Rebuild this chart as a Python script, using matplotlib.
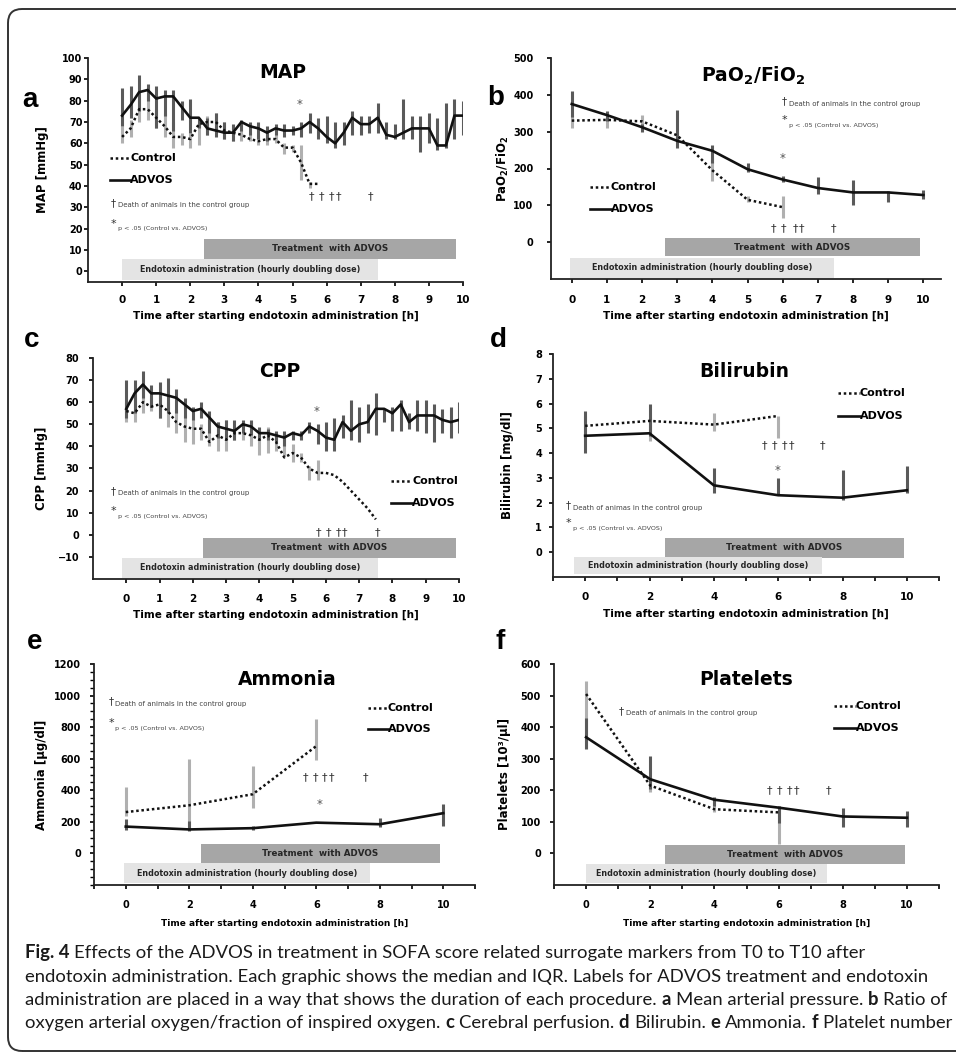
import numpy as np
import matplotlib.pyplot as plt
from matplotlib.patches import FancyBboxPatch, Rectangle

W, H = 956, 1052
plt.rcParams['font.family'] = ['DejaVu Sans']
plt.rcParams['mathtext.fontset'] = 'dejavusans'

# ---------------- data (median, IQR lower, IQR upper) ----------------
# a: MAP, quarter-hour samples
map_t = np.arange(41) * 0.25
map_advos = [73, 78, 84, 85, 81, 82, 82, 77, 72, 72, 67, 66, 65, 65, 70, 68, 67, 65, 67, 66,
             66, 67, 70, 67, 63, 60, 65, 72, 69, 69, 72, 64, 63, 65, 67, 67, 67, 59, 59, 73, 73]
map_advos_lo = [68, 72, 75, 80, 67, 73, 66, 71, 65, 67, 64, 63, 62, 61, 66, 64, 62, 61, 64, 63,
                64, 63, 65, 62, 60, 58, 59, 64, 64, 65, 65, 62, 62, 62, 62, 56, 60, 57, 58, 62, 64]
map_advos_hi = [86, 87, 92, 88, 87, 85, 85, 80, 81, 72, 72, 74, 70, 69, 71, 70, 70, 68, 69, 69,
                68, 70, 74, 72, 73, 70, 70, 75, 73, 73, 79, 70, 69, 81, 73, 73, 74, 72, 79, 81, 80]
map_ctrl_t = np.arange(24) * 0.25
map_ctrl = [63, 67, 76, 76, 72, 68, 63, 63, 62, 69, 70, 70, 66, 65, 64, 62, 61, 62, 62, 58,
            58, 51, 41, 41]
map_ctrl_lo = [60, 63, 70, 71, 67, 63, 58, 59, 58, 59, 64, 66, 62, 61, 61, 61, 59, 59, 60, 55,
               56, 43, 39]
map_ctrl_hi = [68, 71, 81, 82, 76, 74, 70, 65, 65, 70, 73, 74, 70, 68, 68, 65, 64, 64, 65, 60,
               59, 59, 42]

# b: PaO2/FiO2, hourly
pf_t = np.arange(11)
pf_advos = [375, 345, 312, 275, 248, 198, 170, 147, 135, 135, 128]
pf_advos_lo = [340, 330, 300, 255, 215, 190, 162, 130, 100, 108, 118]
pf_advos_hi = [410, 355, 320, 360, 265, 215, 180, 178, 170, 140, 142]
pf_ctrl_t = np.arange(7)
pf_ctrl = [330, 332, 328, 290, 195, 115, 95]
pf_ctrl_lo = [310, 310, 315, 275, 165, 110, 65]
pf_ctrl_hi = [345, 345, 345, 300, 230, 125, 125]

# c: CPP, quarter-hour samples
cpp_t = np.arange(41) * 0.25
cpp_advos = [57, 64, 68, 64, 64, 63, 62, 59, 56, 57, 53, 49, 48, 47, 50, 49, 46, 46, 45, 44,
             46, 45, 49, 47, 44, 43, 51, 47, 50, 51, 57, 57, 55, 59, 51, 54, 54, 54, 52, 51, 52]
cpp_advos_lo = [53, 55, 62, 58, 53, 55, 55, 53, 52, 53, 46, 44, 43, 43, 46, 45, 43, 43, 42, 40,
                43, 43, 46, 41, 38, 38, 44, 43, 42, 46, 45, 51, 47, 47, 48, 47, 46, 42, 46, 44, 46]
cpp_advos_hi = [70, 70, 74, 68, 69, 71, 66, 62, 58, 60, 56, 51, 52, 52, 52, 52, 49, 48, 47, 47,
                47, 47, 51, 50, 51, 53, 54, 61, 58, 59, 64, 57, 58, 61, 55, 61, 61, 59, 57, 58, 60]
cpp_ctrl_t = np.arange(31) * 0.25
cpp_ctrl = [56, 55, 60, 58, 59, 56, 51, 49, 48, 48, 42, 45, 43, 46, 46, 45, 43, 45, 42, 35,
            37, 35, 30, 28, 28, 27, 24, 20, 16, 12, 7]
cpp_ctrl_lo = [51, 51, 55, 56, 53, 49, 46, 42, 41, 43, 40, 38, 38, 43, 43, 40, 36, 37, 38, 35,
               33, 33, 25, 25]
cpp_ctrl_hi = [60, 62, 66, 62, 63, 60, 57, 54, 53, 50, 48, 51, 52, 49, 48, 51, 48, 49, 45, 46,
               41, 37, 31, 34]

# d: Bilirubin, every 2 h
lab_t = [0, 2, 4, 6, 8, 10]
lab_ctrl_t = [0, 2, 4, 6]
bili_advos = [4.7, 4.8, 2.7, 2.3, 2.2, 2.5]
bili_advos_lo = [4.0, 4.7, 2.4, 2.3, 2.1, 2.4]
bili_advos_hi = [5.7, 6.0, 3.4, 3.0, 3.3, 3.5]
bili_ctrl = [5.1, 5.3, 5.15, 5.5]
bili_ctrl_lo = [4.6, 4.5, 4.9, 4.6]
bili_ctrl_hi = [5.5, 5.4, 5.6, 5.5]

# e: Ammonia
nh3_advos = [170, 152, 160, 195, 185, 255]
nh3_advos_lo = [150, 145, 150, 192, 170, 175]
nh3_advos_hi = [215, 205, 175, 198, 225, 310]
nh3_ctrl = [262, 305, 375, 680]
nh3_ctrl_lo = [235, 150, 290, 595]
nh3_ctrl_hi = [420, 600, 555, 850]

# f: Platelets
plt_advos = [368, 235, 170, 145, 117, 113]
plt_advos_lo = [330, 205, 150, 95, 85, 85]
plt_advos_hi = [430, 310, 180, 150, 145, 135]
plt_ctrl = [505, 215, 140, 130]
plt_ctrl_lo = [335, 195, 130, 30]
plt_ctrl_hi = [545, 240, 175, 150]

# times of death in the control group (daggers) per panel
deaths_a = [5.56, 5.85, 6.15, 6.34, 7.29]
deaths_b = [5.73, 6.02, 6.35, 6.54, 7.44]
deaths_c = [5.77, 6.07, 6.37, 6.57, 7.55]
deaths_d = [5.58, 5.88, 6.19, 6.40, 7.39]
deaths_e = [5.65, 5.97, 6.26, 6.49, 7.54]
deaths_f = [5.73, 6.04, 6.35, 6.57, 7.57]

TIME_LABEL = 'Time after starting endotoxin administration [h]'
TREAT_LABEL = 'Treatment  with ADVOS'
ENDO_LABEL = 'Endotoxin administration (hourly doubling dose)'
DEATH_NOTE = 'Death of animals in the control group'
P_NOTE = 'p < .05 (Control vs. ADVOS)'

ADVOS_BAR = '#5a5a5a'
CTRL_BAR = '#b0b0b0'
TREAT_COL = '#a6a6a6'
ENDO_COL = '#e4e4e4'

fig = plt.figure(figsize=(W / 100, H / 100), dpi=100)


def px_axes(l, t, r, b):
    return fig.add_axes([l / W, 1 - b / H, (r - l) / W, (b - t) / H])


def make_panel(rect, xlim, ylim, yticks, xticks, xticklabels, ylabel, ylabel_x, xlabel_top,
               ypad, xpad, xsize=7.5, xlsize=7.5):
    l, t, r, b = rect
    ax = px_axes(l, t, r, b)
    ax.patch.set_alpha(0)
    ax.set_xlim(xlim)
    ax.set_ylim(ylim)
    for s in ['top', 'right']:
        ax.spines[s].set_visible(False)
    for s in ['left', 'bottom']:
        ax.spines[s].set_linewidth(1.3)
        ax.spines[s].set_color('#222222')
    ax.set_yticks(yticks)
    ax.set_xticks(xticks)
    ax.set_xticklabels(xticklabels)
    ax.tick_params(axis='y', direction='out', length=3, width=1.2, pad=ypad, labelsize=7)
    ax.tick_params(axis='x', direction='out', length=3, width=1.2, pad=xpad, labelsize=xsize)
    for lbl in ax.get_xticklabels() + ax.get_yticklabels():
        lbl.set_fontweight('bold')
    ax.set_xlabel(TIME_LABEL, fontweight='bold', fontsize=xlsize)
    ax.set_ylabel(ylabel, fontweight='bold', fontsize=8.5)
    ax.xaxis.set_label_coords(0.5, -(xlabel_top - b) / (b - t))
    ax.yaxis.set_label_coords((ylabel_x + 6 - l) / (r - l), 0.5)
    return ax


def draw_series(ax, t, v, lo, hi, ct, cv, clo, chi):
    ax.vlines(ct[:len(clo)], clo, chi, color=CTRL_BAR, lw=2.2, zorder=2)
    ax.vlines(t, lo, hi, color=ADVOS_BAR, lw=2.2, zorder=3)
    ax.plot(ct, cv, color='#111111', lw=1.8, ls=(0, (1, 1.1)), zorder=4)
    ax.plot(t, v, color='#111111', lw=1.9, zorder=5)


def phases(ax, treat, endo, tsize=6.3, esize=5.8):
    for (x0, x1, y0, y1), col, txt, fs in [(treat, TREAT_COL, TREAT_LABEL, tsize),
                                           (endo, ENDO_COL, ENDO_LABEL, esize)]:
        ax.add_patch(Rectangle((x0, y0), x1 - x0, y1 - y0, color=col, lw=0, zorder=1))
        ax.text((x0 + x1) / 2, (y0 + y1) / 2, txt, ha='center', va='center',
                fontsize=fs, fontweight='bold', color='#262626', zorder=2)


def legend(ax, x0, x1, y_ctrl, y_advos):
    ax.plot([x0, x1], [y_ctrl, y_ctrl], color='#111111', lw=1.8, ls=(0, (1, 1.1)), clip_on=False)
    ax.plot([x0, x1], [y_advos, y_advos], color='#111111', lw=1.9, clip_on=False)
    ax.text(x1, y_ctrl, 'Control', va='center', ha='left', fontsize=8, fontweight='bold')
    ax.text(x1, y_advos, 'ADVOS', va='center', ha='left', fontsize=8, fontweight='bold')


def notes(ax, x, y_death, y_p, death_text=DEATH_NOTE, star=True):
    # symbol at (x, y); small explanatory text shifted right by a few points
    ax.text(x, y_death, '\u2020', fontsize=7.5, color='#333333', ha='left', va='bottom')
    ax.annotate(death_text, (x, y_death), xytext=(5, 0), textcoords='offset points',
                fontsize=5, color='#444444', ha='left', va='bottom')
    if star:
        ax.text(x, y_p, '*', fontsize=8, color='#333333', ha='left', va='bottom')
        ax.annotate(P_NOTE, (x, y_p), xytext=(5, -2), textcoords='offset points',
                    fontsize=4.6, color='#444444', ha='left', va='bottom')


def deaths(ax, xs, y, star=None):
    for x in xs:
        ax.text(x, y, '\u2020', fontsize=8, color='#333333', ha='center', va='center')
    if star is not None:
        ax.text(star[0], star[1], '*', fontsize=8.5, color='#555555', ha='center', va='center')


def title(ax, x, y, s):
    ax.text(x, y, s, fontsize=13.5, fontweight='bold', ha='center', va='center')


hours = list(range(11))
even_ticks = list(range(-1, 12))
even_labels = [str(v) if v % 2 == 0 and 0 <= v <= 10 else '' for v in even_ticks]

# ---------------- panel a ----------------
ax = make_panel((88, 58, 463, 282), (-1, 10), (-5, 100), range(0, 101, 10), hours,
                [str(h) for h in hours], 'MAP [mmHg]', 43, 311, 1, 6.5)
phases(ax, (2.4, 9.8, 6, 15), (0, 7.5, -4, 6))
draw_series(ax, map_t, map_advos, map_advos_lo, map_advos_hi,
            map_ctrl_t, map_ctrl, map_ctrl_lo, map_ctrl_hi)
legend(ax, -0.36, 0.24, 53, 43)
notes(ax, -0.33, 29.5, 20)
deaths(ax, deaths_a, 35, star=(5.2, 78))
title(ax, 4.7, 93, 'MAP')

# ---------------- panel b ----------------
ax = make_panel((551, 58, 941, 279), (-0.59, 10.5), (-100, 500), range(0, 501, 100), hours,
                [str(h) for h in hours], r'PaO$_\mathbf{2}$/FiO$_\mathbf{2}$', 505, 311, 9.5, 8.5)
phases(ax, (2.65, 9.9, -38, 10), (-0.05, 7.45, -97, -42))
draw_series(ax, pf_t, pf_advos, pf_advos_lo, pf_advos_hi,
            pf_ctrl_t, pf_ctrl, pf_ctrl_lo, pf_ctrl_hi)
legend(ax, 0.52, 1.11, 149, 91)
notes(ax, 5.98, 368, 318)
deaths(ax, deaths_b, 37, star=(6.0, 228))
title(ax, 5.17, 452, r'PaO$_\mathbf{2}$/FiO$_\mathbf{2}$')

# ---------------- panel c ----------------
ax = make_panel((93, 358, 459, 579), (-1, 10), (-20, 80), range(-10, 81, 10), hours,
                [str(h) for h in hours], 'CPP [mmHg]', 42, 610, 7, 7.5)
phases(ax, (2.32, 9.9, -10.3, -1.5), (-0.12, 7.58, -19.5, -10.3))
draw_series(ax, cpp_t, cpp_advos, cpp_advos_lo, cpp_advos_hi,
            cpp_ctrl_t, cpp_ctrl, cpp_ctrl_lo, cpp_ctrl_hi)
legend(ax, 7.97, 8.6, 24.2, 14.4)
notes(ax, -0.47, 17.5, 8.5)
deaths(ax, deaths_c, 1.2, star=(5.72, 56))
title(ax, 4.6, 74, 'CPP')

# ---------------- panel d ----------------
ax = make_panel((553, 354, 939, 577), (-1, 11), (-1, 8), range(0, 9), even_ticks,
                even_labels, 'Bilirubin [mg/dl]', 508, 609, 5, 7.5)
phases(ax, (2.47, 9.9, -0.22, 0.57), (-0.35, 7.37, -0.88, -0.2))
draw_series(ax, lab_t, bili_advos, bili_advos_lo, bili_advos_hi,
            lab_ctrl_t, bili_ctrl, bili_ctrl_lo, bili_ctrl_hi)
legend(ax, 7.85, 8.53, 6.43, 5.51)
notes(ax, -0.6, 1.68, 0.98, death_text='Death of animas in the control group')
deaths(ax, deaths_d, 4.3, star=(5.97, 3.3))
title(ax, 4.95, 7.3, 'Bilirubin')

# ---------------- panel e ----------------
ax = make_panel((94, 664, 475, 885), (-1, 11), (-200, 1200), range(0, 1201, 200), even_ticks,
                even_labels, 'Ammonia [\u00b5g/dl]', 42, 919, 6.5, 7.5, xsize=7, xlsize=6.5)
ax.set_yticks(range(-200, 1201, 50), minor=True)
ax.tick_params(axis='y', which='minor', direction='out', length=3, width=1)
phases(ax, (2.37, 9.9, -61, 60), (-0.05, 7.7, -190, -60))
draw_series(ax, lab_t, nh3_advos, nh3_advos_lo, nh3_advos_hi,
            lab_ctrl_t, nh3_ctrl, nh3_ctrl_lo, nh3_ctrl_hi)
legend(ax, 7.62, 8.25, 924, 787)
notes(ax, -0.55, 930, 795)
deaths(ax, deaths_e, 480, star=(6.1, 312))
title(ax, 5.1, 1103, 'Ammonia')

# ---------------- panel f ----------------
ax = make_panel((554, 664, 939, 885), (-1, 11), (-100, 600), range(0, 601, 100), even_ticks,
                even_labels, 'Platelets [10\u00b3/\u00b5l]', 505, 919, 6.5, 7.5, xsize=7, xlsize=6.5)
phases(ax, (2.45, 9.94, -33, 28), (0, 7.5, -95, -33))
draw_series(ax, lab_t, plt_advos, plt_advos_lo, plt_advos_hi,
            lab_ctrl_t, plt_ctrl, plt_ctrl_lo, plt_ctrl_hi)
legend(ax, 7.73, 8.4, 466, 397)
notes(ax, 1.02, 435, 0, star=False)
deaths(ax, deaths_f, 199)
title(ax, 5.0, 552, 'Platelets')

# ---------------- panel letters ----------------
for letter, x, y in [('a', 30, 100), ('b', 496, 98), ('c', 32, 340), ('d', 498, 340),
                     ('e', 35, 642), ('f', 500, 642)]:
    fig.text(x / W, 1 - y / H, letter, fontsize=20, fontweight='bold', ha='center', va='center',
             family=['Liberation Sans', 'DejaVu Sans'])

# ---------------- frame ----------------
frame = FancyBboxPatch((0.08, 0.01), 10.5, 10.42, boxstyle='round,pad=0,rounding_size=0.14',
                       transform=fig.dpi_scale_trans, fill=False, lw=1.4, ec='#333333')
fig.add_artist(frame)

# ---------------- caption ----------------
cap_font = ['Lato', 'DejaVu Sans']
renderer = fig.canvas.get_renderer()

caption = [
    [('Fig. 4', True), ('Effects of the ADVOS in treatment in SOFA score related surrogate markers '
                        'from T0 to T10 after', False)],
    [('endotoxin administration. Each graphic shows the median and IQR. Labels for ADVOS '
      'treatment and endotoxin', False)],
    [('administration are placed in a way that shows the duration of each procedure.', False),
     ('a', True), ('Mean arterial pressure.', False), ('b', True), ('Ratio of', False)],
    [('oxygen arterial oxygen/fraction of inspired oxygen.', False), ('c', True),
     ('Cerebral perfusion.', False), ('d', True), ('Bilirubin.', False), ('e', True),
     ('Ammonia.', False), ('f', True), ('Platelet number', False)],
]
baselines = [958, 982, 1005, 1028]


def width_of(s, size, bold):
    t = fig.text(0, 0, s, fontsize=size, fontweight='bold' if bold else 'normal', family=cap_font)
    w = t.get_window_extent(renderer).width
    t.remove()
    return w


def line_width(parts, size):
    sp = width_of('a a', size, False) - width_of('aa', size, False)
    return sum(width_of(s, size, b) for s, b in parts) + sp * (len(parts) - 1)


cap_size = 12 * (942 - 25) / line_width(caption[2], 12)
space = width_of('a a', cap_size, False) - width_of('aa', cap_size, False)
for parts, yb in zip(caption, baselines):
    x = 25
    for s, b in parts:
        t = fig.text(x / W, 1 - yb / H, s, fontsize=cap_size, family=cap_font,
                     fontweight='bold' if b else 'normal', va='baseline', color='#1a1a1a')
        x += t.get_window_extent(renderer).width + space

fig.savefig('out.png', dpi=100)
